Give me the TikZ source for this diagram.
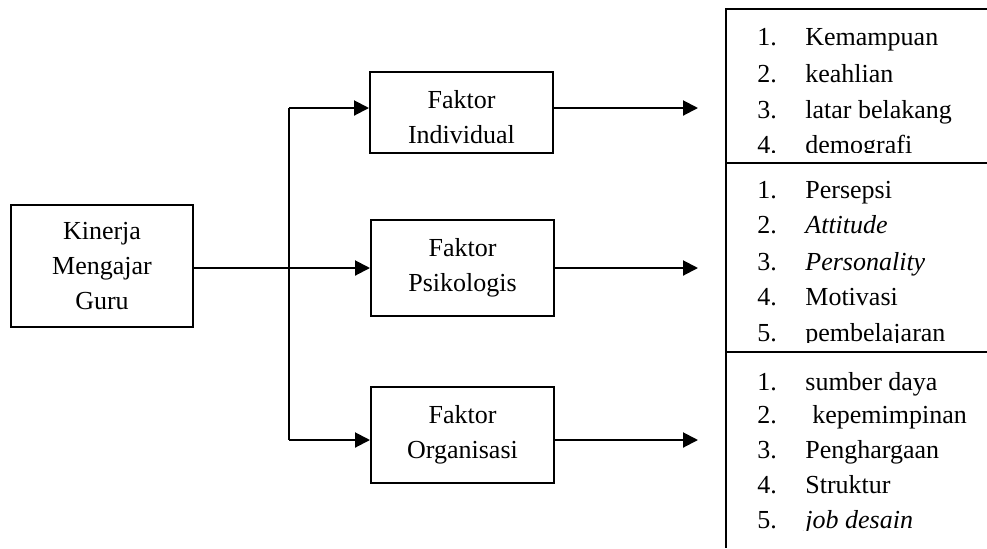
\documentclass[tikz,border=0pt]{standalone}
\usepackage{fontspec}
\setmainfont{Liberation Serif}
\usetikzlibrary{arrows.meta}
\begin{document}
\begin{tikzpicture}[x=0.5pt,y=-0.5pt,
  every node/.style={font=\fontsize{13}{17.5}\selectfont},
  boxnode/.style={draw,line width=1pt,inner sep=0pt,align=center,minimum width=91.5pt},
  conn/.style={line width=1pt},
  arr/.style={line width=1pt,-{Triangle[length=7.5pt,width=7.5pt]}},
  numtxt/.style={anchor=base west,inner sep=0pt},
  itemtxt/.style={anchor=base west,inner sep=0pt}]
\useasboundingbox (0,0) rectangle (987,548);

% left box
\node[boxnode,minimum width=91pt,minimum height=61pt] (kin) at (102,266) {Kinerja\\Mengajar\\Guru};

% factor boxes
\node[boxnode,minimum height=40.5pt] (ind) at (461.5,112.5) {\rule{0pt}{14pt}Faktor\\Individual};
\node[boxnode,minimum height=48pt] (psi) at (462.5,268) {Faktor\\Psikologis};
\node[boxnode,minimum height=48pt] (org) at (462.5,435) {Faktor\\Organisasi};

% junction coordinates
\coordinate (j1) at (289,108);
\coordinate (j2) at (289,268);
\coordinate (j3) at (289,440);
\coordinate (t1) at (698,108);
\coordinate (t2) at (698,268);
\coordinate (t3) at (698,440);

\draw[conn] (j1) -- (j3);
\draw[arr] (kin.east |- j2) -- (psi.west |- j2);
\draw[arr] (j1) -- (ind.west |- j1);
\draw[arr] (j3) -- (org.west |- j3);
\draw[arr] (ind.east |- t1) -- (t1);
\draw[arr] (psi.east |- t2) -- (t2);
\draw[arr] (org.east |- t3) -- (t3);

% right list box
\coordinate (rtl) at (726,9);
\coordinate (rtr) at (987,9);
\coordinate (rbl) at (726,548);
\coordinate (d1l) at (726,163);
\coordinate (d1r) at (987,163);
\coordinate (d2l) at (726,352);
\coordinate (d2r) at (987,352);
\draw[conn] (rtr) -- (rtl) -- (rbl);
\draw[conn] (d1l) -- (d1r);
\draw[conn] (d2l) -- (d2r);

% group 1
\begin{scope}
\clip (727,10) rectangle (987,152);
\node[numtxt] (n11) at (757,45) {1.};
\node[itemtxt] (i11) at (805,45) {Kemampuan};
\node[numtxt] (n12) at (757,82) {2.};
\node[itemtxt] (i12) at (805,82) {keahlian};
\node[numtxt] (n13) at (757,118) {3.};
\node[itemtxt] (i13) at (805,118) {latar belakang};
\node[numtxt] (n14) at (757,153) {4.};
\node[itemtxt] (i14) at (805,153) {demografi};
\end{scope}

% group 2
\begin{scope}
\clip (727,164) rectangle (987,342);
\node[numtxt] (n21) at (757,198) {1.};
\node[itemtxt] (i21) at (805,198) {Persepsi};
\node[numtxt] (n22) at (757,233) {2.};
\node[itemtxt] (i22) at (805,233) {\itshape Attitude};
\node[numtxt] (n23) at (757,270) {3.};
\node[itemtxt] (i23) at (805,270) {\itshape Personality};
\node[numtxt] (n24) at (757,305) {4.};
\node[itemtxt] (i24) at (805,305) {Motivasi};
\node[numtxt] (n25) at (757,341) {5.};
\node[itemtxt] (i25) at (805,341) {pembelajaran};
\end{scope}

% group 3
\begin{scope}
\clip (727,353) rectangle (987,530);
\node[numtxt] (n31) at (757,390) {1.};
\node[itemtxt] (i31) at (805,390) {sumber daya};
\node[numtxt] (n32) at (757,423) {2.};
\node[itemtxt] (i32) at (812,423) {kepemimpinan};
\node[numtxt] (n33) at (757,458) {3.};
\node[itemtxt] (i33) at (805,458) {Penghargaan};
\node[numtxt] (n34) at (757,493) {4.};
\node[itemtxt] (i34) at (805,493) {Struktur};
\node[numtxt] (n35) at (757,528) {5.};
\node[itemtxt] (i35) at (805,528) {\itshape job desain};
\end{scope}
\end{tikzpicture}
\end{document}
